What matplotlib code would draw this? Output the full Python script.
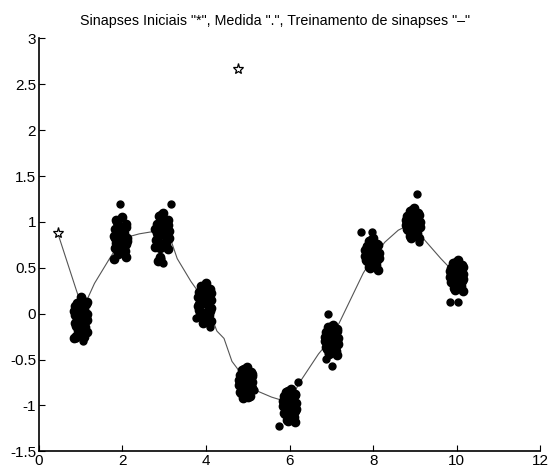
import matplotlib
matplotlib.use("Agg")
import matplotlib.pyplot as plt
import numpy as np

plt.rcParams['font.family'] = ['Liberation Sans', 'DejaVu Sans']

title = 'Sinapses Iniciais "*", Medida ".", Treinamento de sinapses "–"'

# initial synapses (stars)
star_x = [0.45, 4.76]
star_y = [0.88, 2.67]

# trained synapse path
path_x = [0.45, 0.9, 1.05, 1.33, 1.69, 2.0, 2.4, 2.8, 3.1, 3.31, 3.64, 4.0, 4.26, 4.43, 4.62,
          5.0, 5.26, 5.57, 6.0, 6.21, 6.69, 7.0, 7.21, 7.76, 8.0, 8.28, 8.6, 9.0, 9.14, 9.62, 10.0]
path_y = [0.88, 0.25, 0.05, 0.33, 0.6, 0.82, 0.87, 0.9, 0.88, 0.6, 0.35, 0.12, -0.19, -0.27, -0.52,
          -0.75, -0.85, -0.91, -0.97, -0.77, -0.44, -0.27, -0.08, 0.44, 0.62, 0.78, 0.91, 1.0, 0.85, 0.6, 0.42]

# measurement clusters
cluster_x = [1.0, 1.95, 2.95, 3.97, 4.95, 6.0, 7.0, 7.97, 8.95, 10.0]
cluster_dx = [0.03, -0.08, 0.13, -0.13, 0.08, -0.16, 0.16, 0.0, -0.1, 0.11,
              -0.14, 0.05, 0.1, -0.06, 0.14, -0.03, 0.14, -0.03, -0.13, 0.16,
              -0.11, 0.06, 0.0, 0.06, 0.13, -0.05, -0.11, -0.16, 0.08, 0.0]
y_c1 = [0.15, 0.12, 0.1, 0.08, 0.05, 0.03, 0.0, -0.02, -0.05, -0.08, -0.1, -0.12, -0.15, -0.18, -0.2,
        -0.22, 0.13, 0.06, -0.01, -0.07, -0.13, -0.17, 0.09, 0.02, -0.04, -0.11, -0.24, -0.26, -0.25, 0.18]
y_c2 = [1.05, 1.0, 0.95, 0.92, 0.88, 0.85, 0.82, 0.8, 0.77, 0.75, 0.72, 0.7, 0.68, 0.65, 0.62,
        0.9, 0.98, 0.86, 0.83, 0.79, 0.73, 0.69, 0.94, 0.87, 0.76, 0.66, 1.02, 0.6, 0.84, 0.91]
y_c3 = [1.1, 1.06, 1.02, 0.98, 0.95, 0.92, 0.9, 0.87, 0.85, 0.82, 0.8, 0.77, 0.75, 0.72, 0.7,
        1.08, 0.97, 0.93, 0.88, 0.83, 0.78, 0.74, 1.0, 0.89, 0.81, 0.62, 0.57, 0.73, 0.86, 0.96]
y_c4 = [0.33, 0.3, 0.27, 0.24, 0.21, 0.18, 0.15, 0.12, 0.1, 0.07, 0.04, 0.02, -0.01, -0.04, -0.08,
        0.28, 0.22, 0.16, 0.11, 0.06, 0.0, -0.06, 0.25, 0.13, 0.03, -0.1, 0.19, 0.08, 0.14, -0.03]
y_c5 = [-0.58, -0.61, -0.64, -0.67, -0.7, -0.72, -0.75, -0.77, -0.8, -0.82, -0.85, -0.87, -0.9, -0.92, -0.68,
        -0.6, -0.66, -0.71, -0.76, -0.81, -0.86, -0.91, -0.63, -0.74, -0.79, -0.88, -0.69, -0.78, -0.84, -0.73]
y_c6 = [-0.82, -0.85, -0.88, -0.9, -0.93, -0.95, -0.97, -1.0, -1.02, -1.05, -1.08, -1.1, -1.13, -1.16, -1.18,
        -0.84, -0.89, -0.94, -0.99, -1.04, -1.09, -1.14, -0.87, -0.96, -1.06, -1.17, -0.92, -1.01, -1.12, -1.03]
y_c7 = [-0.12, -0.15, -0.17, -0.2, -0.22, -0.25, -0.27, -0.29, -0.32, -0.34, -0.36, -0.39, -0.41, -0.43, -0.45,
        -0.14, -0.19, -0.24, -0.28, -0.33, -0.38, -0.42, -0.16, -0.26, -0.31, -0.44, -0.21, -0.3, -0.37, -0.23]
y_c8 = [0.82, 0.79, 0.76, 0.74, 0.71, 0.69, 0.66, 0.64, 0.62, 0.6, 0.58, 0.56, 0.53, 0.51, 0.48,
        0.8, 0.75, 0.7, 0.65, 0.61, 0.57, 0.52, 0.78, 0.67, 0.59, 0.5, 0.73, 0.63, 0.55, 0.68]
y_c9 = [1.15, 1.12, 1.1, 1.07, 1.05, 1.02, 1.0, 0.98, 0.96, 0.94, 0.92, 0.9, 0.88, 0.85, 0.82,
        1.13, 1.08, 1.03, 0.99, 0.95, 0.91, 0.86, 1.11, 1.01, 0.93, 0.83, 1.06, 0.97, 0.89, 1.04]
y_c10 = [0.58, 0.55, 0.53, 0.5, 0.48, 0.46, 0.43, 0.41, 0.39, 0.37, 0.35, 0.32, 0.3, 0.28, 0.25,
         0.56, 0.51, 0.47, 0.42, 0.38, 0.34, 0.29, 0.54, 0.44, 0.36, 0.26, 0.49, 0.4, 0.31, 0.45]
cluster_y = [y_c1, y_c2, y_c3, y_c4, y_c5, y_c6, y_c7, y_c8, y_c9, y_c10]

# isolated measurement points
out_x = [0.88, 1.05, 1.93, 2.93, 2.97, 3.15, 3.75, 4.1, 5.15, 5.75, 6.2,
         6.93, 6.88, 7.02, 7.72, 7.98, 9.05, 9.1, 9.85, 10.03]
out_y = [-0.27, -0.3, 1.2, 0.6, 0.55, 1.2, -0.05, -0.15, -0.83, -1.22, -0.75,
         0.0, -0.49, -0.57, 0.89, 0.89, 1.3, 0.78, 0.13, 0.13]

xticks = [0, 2, 4, 6, 8, 10, 12]
yticks = [-1.5, -1, -0.5, 0, 0.5, 1, 1.5, 2, 2.5, 3]
ytick_labels = ['-1.5', '-1', '-0.5', '0', '0.5', '1', '1.5', '2', '2.5', '3']

fig = plt.figure(figsize=(5.48, 4.75), dpi=100)
ax = fig.add_axes([0.071, 0.05, 0.915, 0.869])

ax.plot(path_x, path_y, color='#555555', lw=0.8, zorder=2)
for cx, ys in zip(cluster_x, cluster_y):
    xs = [cx + d for d in cluster_dx]
    ax.plot(xs, ys, 'o', color='black', ms=6, mec='black', zorder=3)
ax.plot(out_x, out_y, 'o', color='black', ms=5, zorder=3)
ax.plot(star_x, star_y, '*', ms=8, mfc='white', mec='black', mew=0.9, zorder=4)

ax.set_xlim(0, 12)
ax.set_ylim(-1.5, 3)
ax.set_xticks(xticks)
ax.set_yticks(yticks)
ax.set_yticklabels(ytick_labels)
ax.spines['top'].set_visible(False)
ax.spines['right'].set_visible(False)
ax.spines['left'].set_linewidth(1.2)
ax.spines['bottom'].set_linewidth(1.2)
ax.tick_params(direction='in', length=4, labelsize=11, width=0.8, pad=2)
ax.set_title(title, fontsize=10.3, pad=10, x=0.471)

fig.savefig('out.png', dpi=100)
